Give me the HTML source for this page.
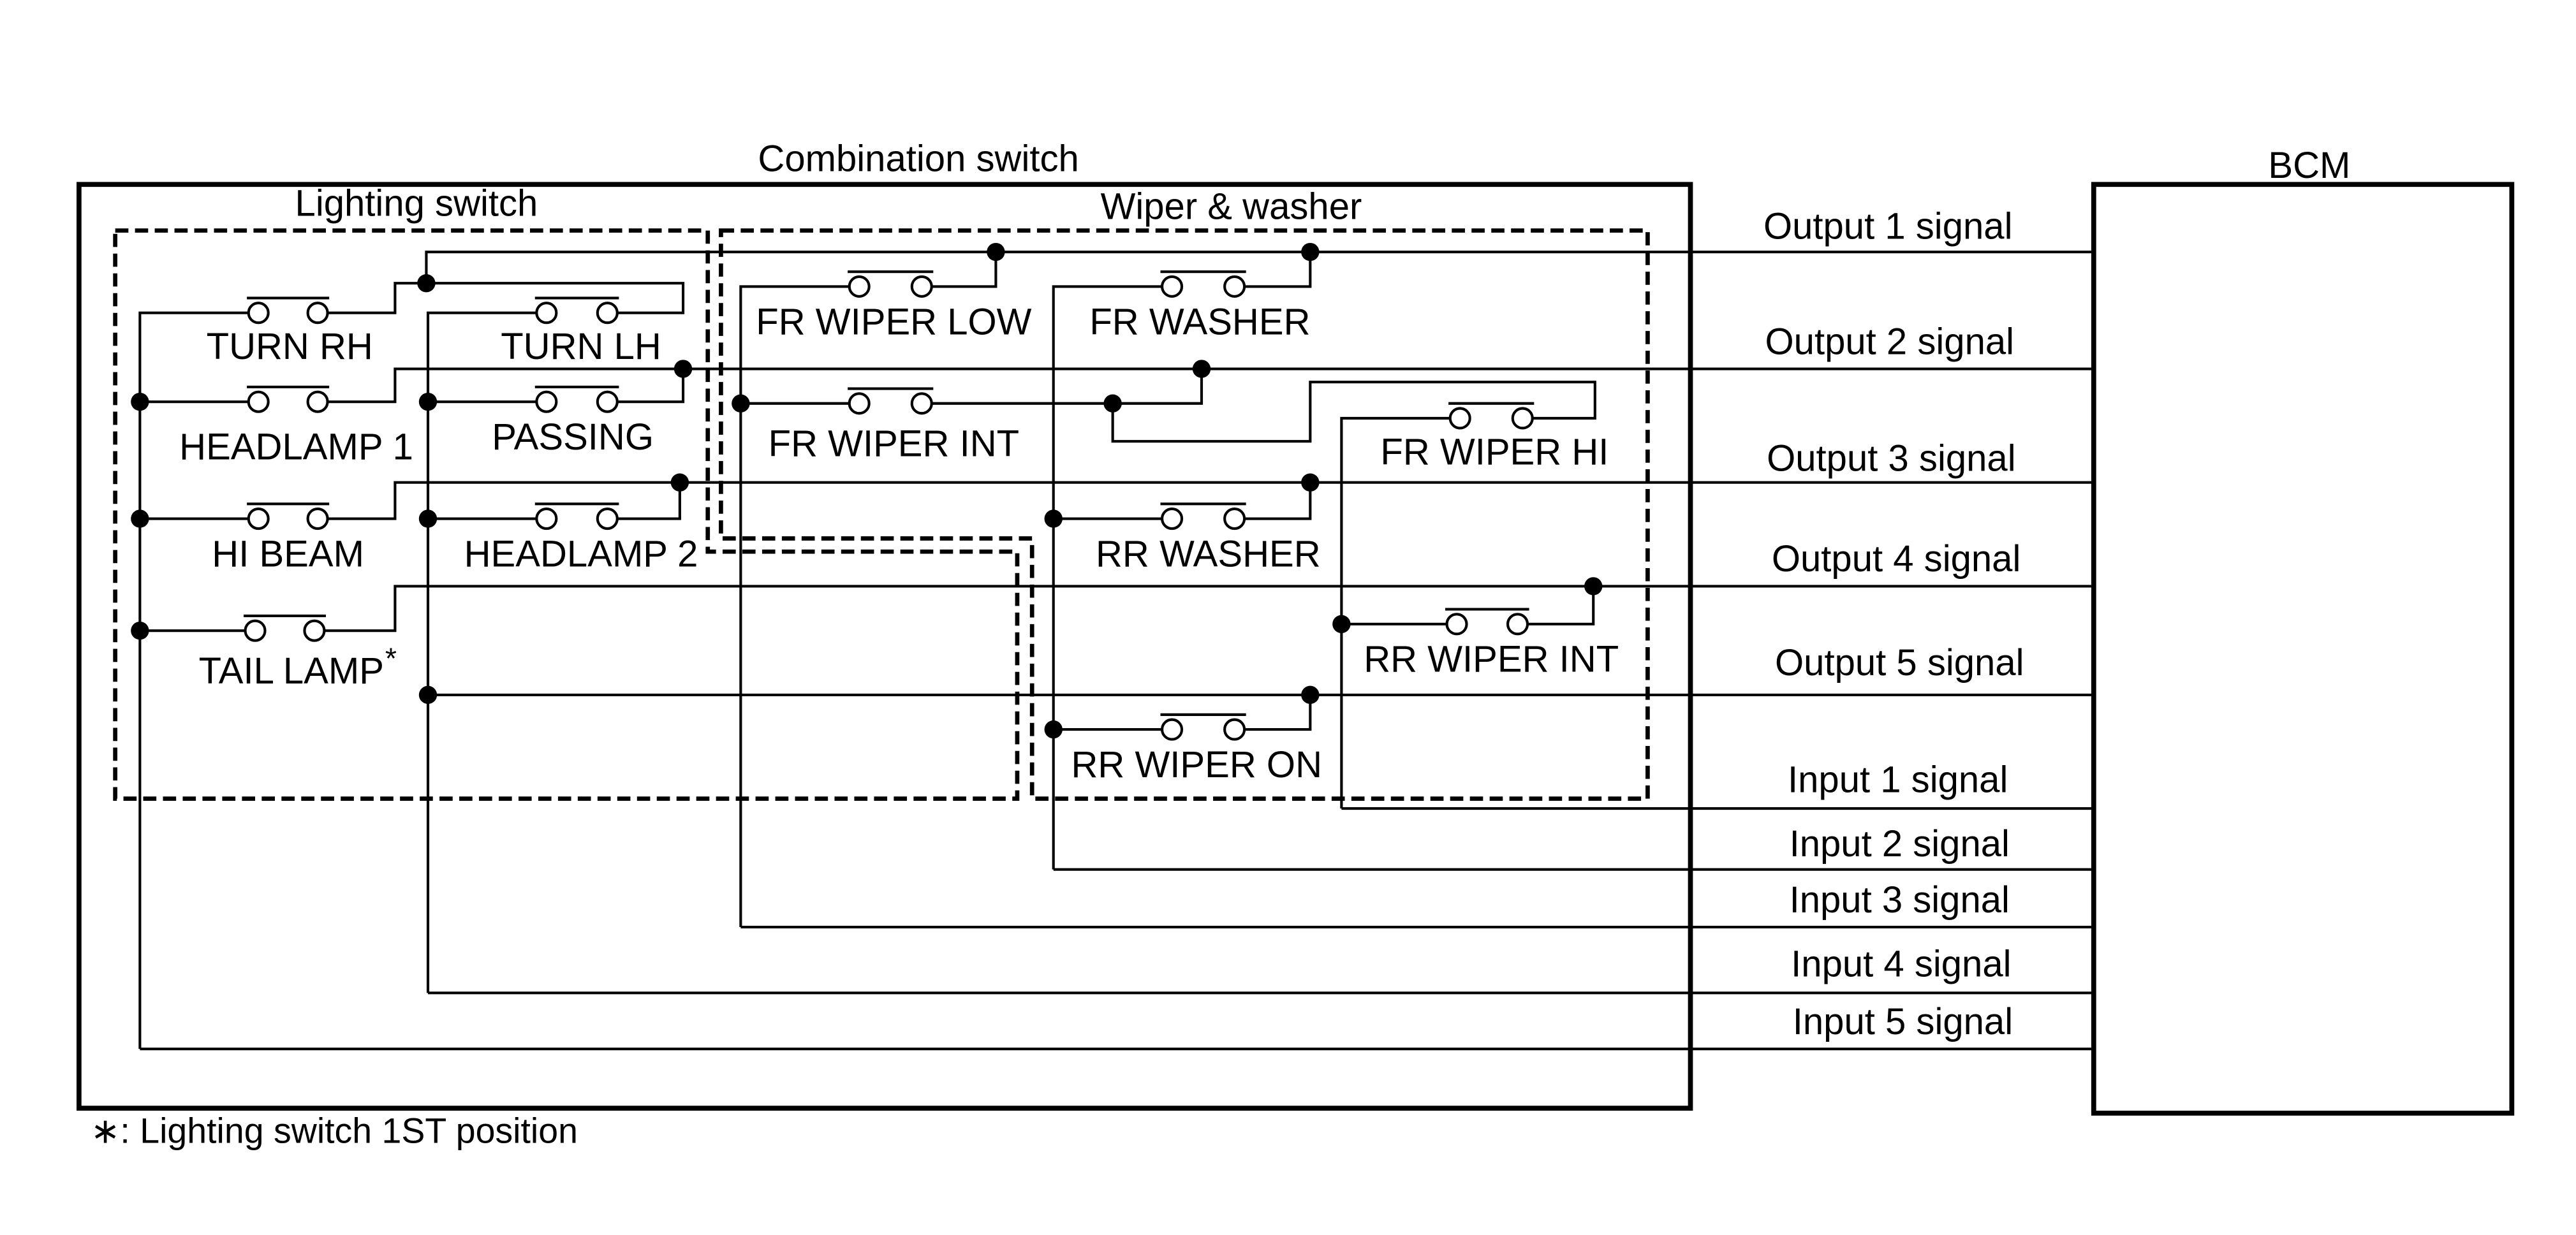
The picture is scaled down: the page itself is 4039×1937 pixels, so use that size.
<!DOCTYPE html>
<html><head><meta charset="utf-8"><style>
html,body{margin:0;padding:0;background:#fff;}
svg{display:block;}
text{font-family:"Liberation Sans",Arial,sans-serif;font-size:22.5px;fill:#000;}
</style></head><body>
<svg width="4039" height="1937" viewBox="0 0 1565 750" preserveAspectRatio="none" xmlns="http://www.w3.org/2000/svg">
<g fill="none" stroke="#000">
<rect x="48" y="112" width="979" height="561" stroke-width="3"/>
<rect x="1272" y="112" width="254" height="564" stroke-width="3"/>
<g stroke-width="2.6" stroke-dasharray="8,4">
<polygon points="70,140 430,140 430,335 618,335 618,485 70,485"/>
<polygon points="438,140 1001,140 1001,485 627,485 627,327 438,327"/>
</g>
<g stroke-width="1.6">
<polyline points="85,637 1272,637"/>
<polyline points="85,637 85,190 151,190"/>
<polyline points="199,190 240,190 240,172 415,172 415,190 375,190"/>
<polyline points="259,172 259,153 1272,153"/>
<polyline points="260,603 1272,603"/>
<polyline points="260,603 260,190 326,190"/>
<polyline points="85,244 151,244"/>
<polyline points="199,244 240,244 240,224 1272,224"/>
<polyline points="260,244 326,244"/>
<polyline points="375,244 415,244 415,224"/>
<polyline points="85,315 151,315"/>
<polyline points="199,315 240,315 240,293 1272,293"/>
<polyline points="260,315 326,315"/>
<polyline points="375,315 413,315 413,293"/>
<polyline points="85,383 149,383"/>
<polyline points="197,383 240,383 240,356 1272,356"/>
<polyline points="260,422 1272,422"/>
<polyline points="450,563 1272,563"/>
<polyline points="450,563 450,174 516,174"/>
<polyline points="566,174 605,174 605,153"/>
<polyline points="640,528 1272,528"/>
<polyline points="640,528 640,174 706,174"/>
<polyline points="756,174 796,174 796,153"/>
<polyline points="450,245 516,245"/>
<polyline points="566,245 730,245 730,224"/>
<polyline points="676,245 676,268 796,268 796,232 969,232 969,254 931,254"/>
<polyline points="815,491 1272,491"/>
<polyline points="815,491 815,254 881,254"/>
<polyline points="640,315 706,315"/>
<polyline points="756,315 796,315 796,293"/>
<polyline points="815,379 879,379"/>
<polyline points="928,379 968,379 968,356"/>
<polyline points="640,443 706,443"/>
<polyline points="756,443 796,443 796,422"/>
<g fill="#fff">
<circle cx="157" cy="190" r="6"/><circle cx="193" cy="190" r="6"/>
<circle cx="332" cy="190" r="6"/><circle cx="369" cy="190" r="6"/>
<circle cx="157" cy="244" r="6"/><circle cx="193" cy="244" r="6"/>
<circle cx="332" cy="244" r="6"/><circle cx="369" cy="244" r="6"/>
<circle cx="157" cy="315" r="6"/><circle cx="193" cy="315" r="6"/>
<circle cx="332" cy="315" r="6"/><circle cx="369" cy="315" r="6"/>
<circle cx="155" cy="383" r="6"/><circle cx="191" cy="383" r="6"/>
<circle cx="522" cy="174" r="6"/><circle cx="560" cy="174" r="6"/>
<circle cx="712" cy="174" r="6"/><circle cx="750" cy="174" r="6"/>
<circle cx="522" cy="245" r="6"/><circle cx="560" cy="245" r="6"/>
<circle cx="887" cy="254" r="6"/><circle cx="925" cy="254" r="6"/>
<circle cx="712" cy="315" r="6"/><circle cx="750" cy="315" r="6"/>
<circle cx="885" cy="379" r="6"/><circle cx="922" cy="379" r="6"/>
<circle cx="712" cy="443" r="6"/><circle cx="750" cy="443" r="6"/>
</g>
<path d="M150 181H200M325 181H376M150 235H200M325 235H376M150 306H200M325 306H376M148 374H198M515 165H567M705 165H757M515 236H567M880 245H932M705 306H757M878 370H929M705 434H757"/>
</g>
</g>
<g fill="#000">
<circle cx="259" cy="172" r="5.5"/><circle cx="415" cy="224" r="5.5"/><circle cx="413" cy="293" r="5.5"/>
<circle cx="85" cy="244" r="5.5"/><circle cx="85" cy="315" r="5.5"/><circle cx="85" cy="383" r="5.5"/>
<circle cx="260" cy="244" r="5.5"/><circle cx="260" cy="315" r="5.5"/><circle cx="260" cy="422" r="5.5"/>
<circle cx="605" cy="153" r="5.5"/><circle cx="796" cy="153" r="5.5"/><circle cx="730" cy="224" r="5.5"/>
<circle cx="450" cy="245" r="5.5"/><circle cx="676" cy="245" r="5.5"/><circle cx="796" cy="293" r="5.5"/>
<circle cx="640" cy="315" r="5.5"/><circle cx="968" cy="356" r="5.5"/><circle cx="815" cy="379" r="5.5"/>
<circle cx="796" cy="422" r="5.5"/><circle cx="640" cy="443" r="5.5"/>
</g>
<g text-anchor="middle">
<text x="558" y="104">Combination switch</text>
<text x="1403" y="108">BCM</text>
<text x="253" y="131">Lighting switch</text>
<text x="748" y="133">Wiper &amp; washer</text>
<text x="176" y="218">TURN RH</text>
<text x="353" y="218">TURN LH</text>
<text x="180" y="279">HEADLAMP 1</text>
<text x="348" y="273">PASSING</text>
<text x="175" y="344">HI BEAM</text>
<text x="353" y="344">HEADLAMP 2</text>
<text x="177" y="415">TAIL LAMP</text>
<text x="543" y="203">FR WIPER LOW</text>
<text x="729" y="203">FR WASHER</text>
<text x="543" y="277">FR WIPER INT</text>
<text x="908" y="282">FR WIPER HI</text>
<text x="734" y="344">RR WASHER</text>
<text x="906" y="408">RR WIPER INT</text>
<text x="727" y="472">RR WIPER ON</text>
<text x="1147" y="145">Output 1 signal</text>
<text x="1148" y="215">Output 2 signal</text>
<text x="1149" y="286">Output 3 signal</text>
<text x="1152" y="347">Output 4 signal</text>
<text x="1154" y="410">Output 5 signal</text>
<text x="1153" y="481">Input 1 signal</text>
<text x="1154" y="520">Input 2 signal</text>
<text x="1154" y="554">Input 3 signal</text>
<text x="1155" y="593">Input 4 signal</text>
<text x="1156" y="628">Input 5 signal</text>
</g>
<text x="234" y="406" style="font-size:18px">*</text>
<text x="55" y="694" style="font-size:21.5px">∗: Lighting switch 1ST position</text>
</svg>
</body></html>
